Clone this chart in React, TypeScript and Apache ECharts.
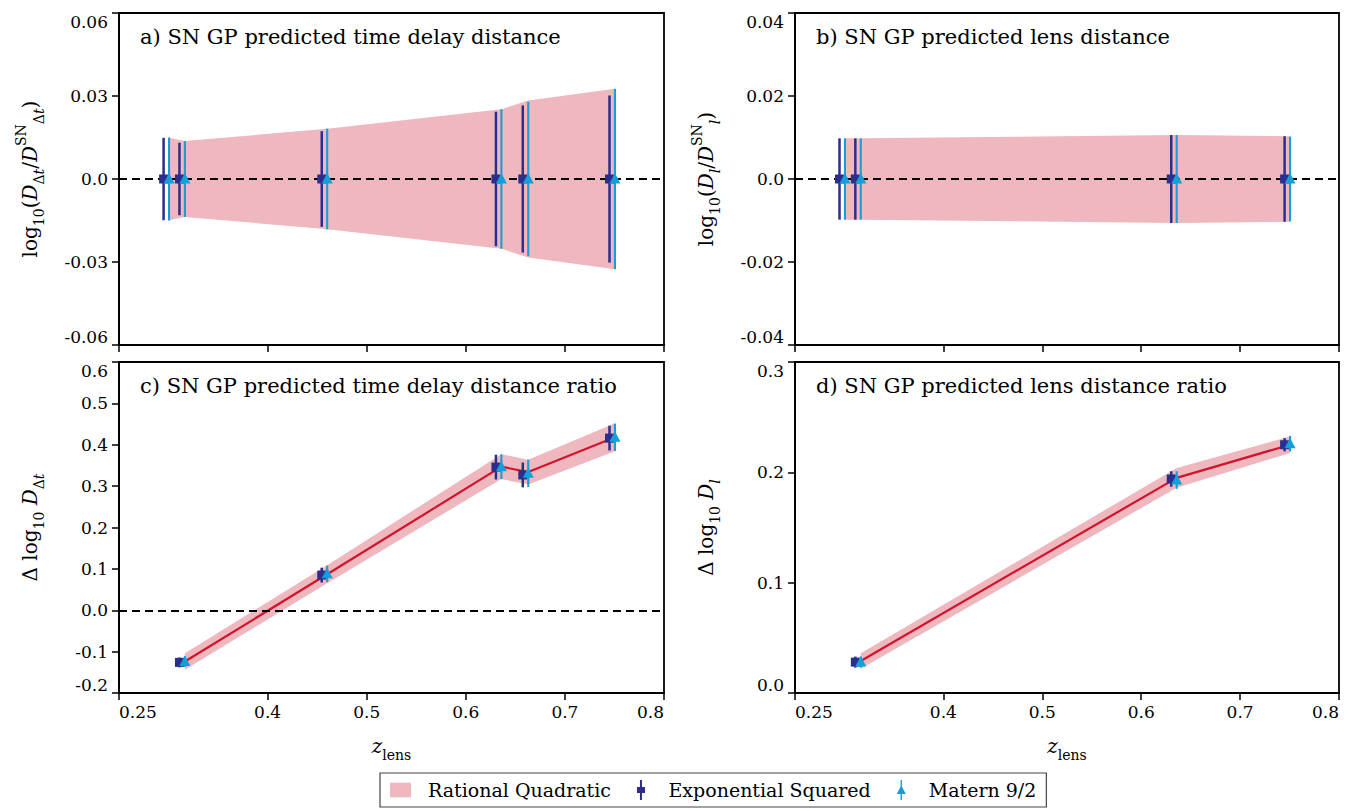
import React, { useEffect, useRef } from 'react';
import * as echarts from 'echarts';

const FONT = 'DejaVu Serif';
const BAND = '#efb7be';
const RED = '#d0142c';
const NAVY = '#2b2e8c';
const CYAN = '#149fd8';

// Lens redshifts (exponential squared points) and the slightly shifted positions
// used for the rational quadratic band and the Matern 9/2 points.
const zTimeDelay = [0.295, 0.311, 0.4546, 0.6304, 0.6575, 0.745];
const zTimeDelayShifted = [0.3005, 0.3165, 0.4601, 0.6359, 0.663, 0.7505];
const zLensDist = [0.295, 0.311, 0.6304, 0.745];
const zLensDistShifted = [0.3005, 0.3165, 0.6359, 0.7505];
const zRatioDt = [0.311, 0.4546, 0.6304, 0.6575, 0.745];
const zRatioDtShifted = [0.3165, 0.4601, 0.6359, 0.663, 0.7505];
const zRatioDl = [0.311, 0.6304, 0.745];
const zRatioDlShifted = [0.3165, 0.6359, 0.7505];

// a) log10(D_dt / D_dt^SN)
const rqDtMean = [0, 0, 0, 0, 0, 0];
const rqDtSigma = [0.0149, 0.0137, 0.0182, 0.0252, 0.0284, 0.0326];
const expDtMean = [0, 0, 0, 0, 0, 0];
const expDtSigma = [0.0149, 0.0131, 0.0173, 0.0243, 0.0266, 0.0302];
const maternDtMean = [0, 0, 0, 0, 0, 0];
const maternDtSigma = [0.015, 0.0137, 0.0182, 0.0252, 0.0279, 0.0326];

// b) log10(D_l / D_l^SN)
const rqDlMean = [0, 0, 0, 0];
const rqDlSigma = [0.0098, 0.0098, 0.0106, 0.0103];
const expDlMean = [0, 0, 0, 0];
const expDlSigma = [0.0098, 0.0098, 0.0106, 0.0103];
const maternDlMean = [0, 0, 0, 0];
const maternDlSigma = [0.0098, 0.0098, 0.0106, 0.0102];

// c) Delta log10 D_dt
const rqRatioDtMean = [-0.124, 0.087, 0.347, 0.334, 0.418];
const rqRatioDtSigma = [0.02, 0.022, 0.03, 0.03, 0.034];
const expRatioDtMean = [-0.126, 0.085, 0.346, 0.327, 0.416];
const expRatioDtSigma = [0.012, 0.018, 0.03, 0.03, 0.03];
const maternRatioDtMean = [-0.124, 0.088, 0.347, 0.331, 0.418];
const maternRatioDtSigma = [0.013, 0.02, 0.03, 0.033, 0.033];

// d) Delta log10 D_l
const rqRatioDlMean = [0.029, 0.195, 0.225];
const rqRatioDlSigma = [0.007, 0.009, 0.0075];
const expRatioDlMean = [0.028, 0.194, 0.225];
const expRatioDlSigma = [0.005, 0.007, 0.006];
const maternRatioDlMean = [0.028, 0.193, 0.226];
const maternRatioDlSigma = [0.005, 0.008, 0.007];

const xTicks = [0.25, 0.4, 0.5, 0.6, 0.7, 0.8];

const panelTitles = [
  'a) SN GP predicted time delay distance',
  'b) SN GP predicted lens distance',
  'c) SN GP predicted time delay distance ratio',
  'd) SN GP predicted lens distance ratio',
];

const RQ = 'Rational Quadratic';
const EXP = 'Exponential Squared';
const MATERN = 'Matern 9/2';

const RQ_ICON = 'path://M0,0h20v14h-20z';
const EXP_ICON = 'path://M3,0h2v7h3v6h-3v7h-2v-7h-3v-6h3z';
const MATERN_ICON = 'path://M3.3,0h1.4v6.5l3.8,7.5h-3.8v6h-1.4v-6h-3.8l3.8,-7.5z';

const grids = [
  { left: 119, top: 13, width: 545, height: 332 },
  { left: 795, top: 13, width: 544, height: 332 },
  { left: 119, top: 362, width: 545, height: 331 },
  { left: 795, top: 362, width: 544, height: 331 },
];

const yRanges = [
  { min: -0.06, max: 0.06, interval: 0.03, digits: 2 },
  { min: -0.04, max: 0.04, interval: 0.02, digits: 2 },
  { min: -0.2, max: 0.6, interval: 0.1, digits: 1 },
  { min: 0, max: 0.3, interval: 0.1, digits: 1 },
];

const yNames = [
  '{n|log}{sub|10}{n|(}{it|D}{sub|Δ}{subit|t}{n|/}{it|D}{sup|SN}{sub|Δ}{subit|t}{n|)}',
  '{n|log}{sub|10}{n|(}{it|D}{subit|l}{n|/}{it|D}{sup|SN}{subit|l}{n|)}',
  '{n|Δ log}{sub|10}{n| }{it|D}{sub|Δ}{subit|t}',
  '{n|Δ log}{sub|10}{n| }{it|D}{subit|l}',
];

const mathRich = {
  n: { fontFamily: FONT, fontSize: 20, lineHeight: 32, color: '#000' },
  it: { fontFamily: FONT, fontSize: 20, lineHeight: 32, color: '#000', fontStyle: 'italic' },
  sub: { fontFamily: FONT, fontSize: 14, lineHeight: 16, color: '#000', verticalAlign: 'bottom' },
  subit: { fontFamily: FONT, fontSize: 14, lineHeight: 16, color: '#000', verticalAlign: 'bottom', fontStyle: 'italic' },
  sup: { fontFamily: FONT, fontSize: 14, lineHeight: 16, color: '#000', verticalAlign: 'top' },
};

function bandSeries(idx: number, z: number[], mean: number[], sigma: number[], zeroLine: boolean) {
  return {
    type: 'custom',
    name: RQ,
    xAxisIndex: idx,
    yAxisIndex: idx,
    z: 1,
    silent: true,
    itemStyle: { color: BAND },
    data: z.map((x, i) => [x, mean[i], mean[i] - sigma[i], mean[i] + sigma[i]]),
    renderItem: (params: any, api: any) => {
      if (params.dataIndex !== 0) return null;
      const upper = z.map((x, i) => api.coord([x, mean[i] + sigma[i]]));
      const lower = z.map((x, i) => api.coord([x, mean[i] - sigma[i]])).reverse();
      return {
        type: 'polygon',
        shape: { points: upper.concat(lower) },
        style: { fill: BAND },
      };
    },
    markLine: zeroLine
      ? {
          silent: true,
          symbol: 'none',
          label: { show: false },
          lineStyle: { color: '#000', type: [8, 5], width: 2.2 },
          data: [{ yAxis: 0 }],
        }
      : undefined,
  };
}

function errorSeries(
  name: string,
  idx: number,
  z: number[],
  mean: number[],
  sigma: number[],
  color: string,
  marker: 'square' | 'triangle'
) {
  return {
    type: 'custom',
    name,
    xAxisIndex: idx,
    yAxisIndex: idx,
    z: marker === 'square' ? 6 : 7,
    silent: true,
    itemStyle: { color },
    data: z.map((x, i) => [x, mean[i], mean[i] - sigma[i], mean[i] + sigma[i]]),
    renderItem: (params: any, api: any) => {
      const x = api.value(0);
      const c = api.coord([x, api.value(1)]);
      const lo = api.coord([x, api.value(2)]);
      const hi = api.coord([x, api.value(3)]);
      const children: any[] = [
        {
          type: 'line',
          shape: { x1: lo[0], y1: lo[1], x2: hi[0], y2: hi[1] },
          style: { stroke: color, lineWidth: marker === 'square' ? 2.5 : 2.1 },
        },
      ];
      if (marker === 'square') {
        children.push({
          type: 'rect',
          shape: { x: c[0] - 4.5, y: c[1] - 4.5, width: 9, height: 9 },
          style: { fill: color },
        });
      } else {
        children.push({
          type: 'polygon',
          shape: {
            points: [
              [c[0] - 5.5, c[1] + 4.5],
              [c[0] + 5.5, c[1] + 4.5],
              [c[0], c[1] - 6],
            ],
          },
          style: { fill: color },
        });
      }
      return { type: 'group', children };
    },
  };
}

function lineSeries(idx: number, z: number[], mean: number[]) {
  return {
    type: 'line',
    xAxisIndex: idx,
    yAxisIndex: idx,
    z: 3,
    silent: true,
    symbol: 'none',
    lineStyle: { color: RED, width: 2.2 },
    data: z.map((x, i) => [x, mean[i]]),
  };
}

function buildOption() {
  const xAxis = grids.map((_, i) => ({
    type: 'value',
    gridIndex: i,
    min: 0.25,
    max: 0.8,
    splitLine: { show: false },
    axisLine: { show: true, onZero: false, lineStyle: { color: '#000', width: 1.8 } },
    axisTick: { show: true, length: 7, customValues: xTicks, lineStyle: { color: '#000', width: 1.5 } },
    axisLabel: {
      show: i >= 2,
      customValues: xTicks,
      margin: 10,
      fontFamily: FONT,
      fontSize: 17,
      color: '#000',
      alignMinLabel: 'left',
      alignMaxLabel: 'right',
      formatter: (v: number) => (Math.abs(v - 0.25) < 1e-9 ? '0.25' : v.toFixed(1)),
    },
    name: i >= 2 ? '{it|z}{sub|lens}' : '',
    nameLocation: 'middle',
    nameGap: 37,
    nameTextStyle: { fontFamily: FONT, fontSize: 20, color: '#000', rich: mathRich },
  }));

  const yAxis = grids.map((_, i) => {
    const r = yRanges[i];
    return {
      type: 'value',
      gridIndex: i,
      min: r.min,
      max: r.max,
      interval: r.interval,
      splitLine: { show: false },
      axisLine: { show: true, lineStyle: { color: '#000', width: 1.8 } },
      axisTick: { show: true, length: 7, lineStyle: { color: '#000', width: 1.5 } },
      axisLabel: {
        margin: 11,
        fontFamily: FONT,
        fontSize: 17,
        color: '#000',
        verticalAlignMinLabel: 'bottom',
        verticalAlignMaxLabel: 'top',
        formatter: (v: number) => (Math.abs(v) < 1e-9 ? '0.0' : v.toFixed(r.digits)),
      },
      name: yNames[i],
      nameLocation: 'middle',
      nameRotate: 90,
      nameGap: 73,
      nameTextStyle: { fontFamily: FONT, fontSize: 20, color: '#000', rich: mathRich },
    };
  });

  const series: any[] = [
    bandSeries(0, zTimeDelayShifted, rqDtMean, rqDtSigma, true),
    errorSeries(EXP, 0, zTimeDelay, expDtMean, expDtSigma, NAVY, 'square'),
    errorSeries(MATERN, 0, zTimeDelayShifted, maternDtMean, maternDtSigma, CYAN, 'triangle'),

    bandSeries(1, zLensDistShifted, rqDlMean, rqDlSigma, true),
    errorSeries(EXP, 1, zLensDist, expDlMean, expDlSigma, NAVY, 'square'),
    errorSeries(MATERN, 1, zLensDistShifted, maternDlMean, maternDlSigma, CYAN, 'triangle'),

    bandSeries(2, zRatioDtShifted, rqRatioDtMean, rqRatioDtSigma, true),
    lineSeries(2, zRatioDtShifted, rqRatioDtMean),
    errorSeries(EXP, 2, zRatioDt, expRatioDtMean, expRatioDtSigma, NAVY, 'square'),
    errorSeries(MATERN, 2, zRatioDtShifted, maternRatioDtMean, maternRatioDtSigma, CYAN, 'triangle'),

    bandSeries(3, zRatioDlShifted, rqRatioDlMean, rqRatioDlSigma, false),
    lineSeries(3, zRatioDlShifted, rqRatioDlMean),
    errorSeries(EXP, 3, zRatioDl, expRatioDlMean, expRatioDlSigma, NAVY, 'square'),
    errorSeries(MATERN, 3, zRatioDlShifted, maternRatioDlMean, maternRatioDlSigma, CYAN, 'triangle'),
  ];

  const title = panelTitles.map((t, i) => ({
    text: t,
    left: grids[i].left + 21,
    top: grids[i].top + 13,
    padding: 0,
    textStyle: { fontFamily: FONT, fontSize: 21, fontWeight: 'normal', color: '#000' },
  }));

  return {
    animation: false,
    backgroundColor: '#fff',
    title,
    grid: grids.map((g) => ({
      ...g,
      show: true,
      borderColor: '#000',
      borderWidth: 1.8,
      backgroundColor: 'transparent',
      containLabel: false,
    })),
    xAxis,
    yAxis,
    legend: {
      left: 380,
      top: 773,
      orient: 'horizontal',
      selectedMode: false,
      itemWidth: 21,
      itemHeight: 20,
      itemGap: 26,
      padding: [7, 10],
      borderColor: '#444',
      borderWidth: 1.2,
      borderRadius: 0,
      backgroundColor: '#fff',
      textStyle: { fontFamily: FONT, fontSize: 19, color: '#000', padding: [0, 0, 0, 12] },
      data: [
        { name: RQ, icon: RQ_ICON },
        { name: EXP, icon: EXP_ICON },
        { name: MATERN, icon: MATERN_ICON },
      ],
    },
    series,
  };
}

export default function App() {
  const ref = useRef<HTMLDivElement>(null);
  useEffect(() => {
    const chart = echarts.init(ref.current!, null, { renderer: 'svg' });
    chart.setOption(buildOption() as any);
    return () => chart.dispose();
  }, []);
  return (
    <div
      ref={ref}
      style={{ position: 'absolute', left: 0, top: 0, width: 1349, height: 811, background: '#fff' }}
    />
  );
}
